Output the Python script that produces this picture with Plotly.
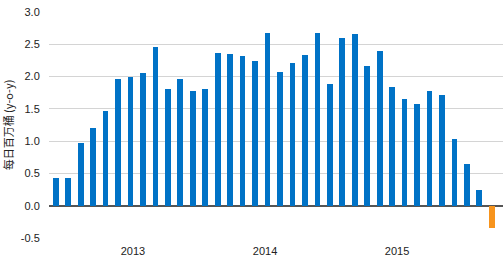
import plotly.graph_objects as go

months = [f"{y}-{m:02d}" for y in (2013, 2014, 2015) for m in range(1, 13)]
values = [0.43, 0.43, 0.97, 1.21, 1.46, 1.97, 2.00, 2.05, 2.46, 1.81,
          1.97, 1.78, 1.81, 2.36, 2.35, 2.32, 2.24, 2.67, 2.07, 2.21,
          2.34, 2.67, 1.88, 2.60, 2.66, 2.17, 2.40, 1.84, 1.66, 1.57,
          1.78, 1.72, 1.03, 0.65, 0.24, -0.35]
year_labels = ["2013", "2014", "2015"]
year_label_pos = [6.2, 16.8, 27.4]
y_ticks = [-0.5, 0.0, 0.5, 1.0, 1.5, 2.0, 2.5, 3.0]

x = list(range(len(months)))
colors = ["#0072C6" if v >= 0 else "#F7941D" for v in values]

fig = go.Figure(go.Bar(x=x, y=values, marker_color=colors, marker_line_width=0,
                       width=0.46, hovertext=months))

fig.update_layout(
    width=504, height=265, autosize=False,
    margin=dict(l=49, r=1, t=12, b=26.5),
    paper_bgcolor="white", plot_bgcolor="white",
    showlegend=False,
    font=dict(family="Liberation Sans, Arial, sans-serif", size=11, color="#222"),
    bargap=0,
)
fig.update_xaxes(
    range=[-0.54, 35.9], tickmode="array", tickvals=year_label_pos, ticktext=year_labels,
    showgrid=False, zeroline=False, showline=False,
    ticks="outside", ticklen=3, tickcolor="rgba(0,0,0,0)",
    tickfont=dict(size=11, color="#222"),
)
fig.update_yaxes(
    range=[-0.5, 3.0], tickmode="array", tickvals=y_ticks,
    ticktext=[f"{v:.1f}" for v in y_ticks],
    showgrid=True, gridcolor="#d4d4d4", gridwidth=1,
    zeroline=True, zerolinecolor="#555", zerolinewidth=1.5,
    showline=False,
    ticks="outside", ticklen=6, tickcolor="rgba(0,0,0,0)",
    tickfont=dict(size=11, color="#222"),
    title=dict(text="每日百万桶 (y-o-y)", standoff=12,
               font=dict(size=11, color="#222", family="Noto Sans CJK SC, Liberation Sans, sans-serif")),
)

fig.write_html("out.html")
